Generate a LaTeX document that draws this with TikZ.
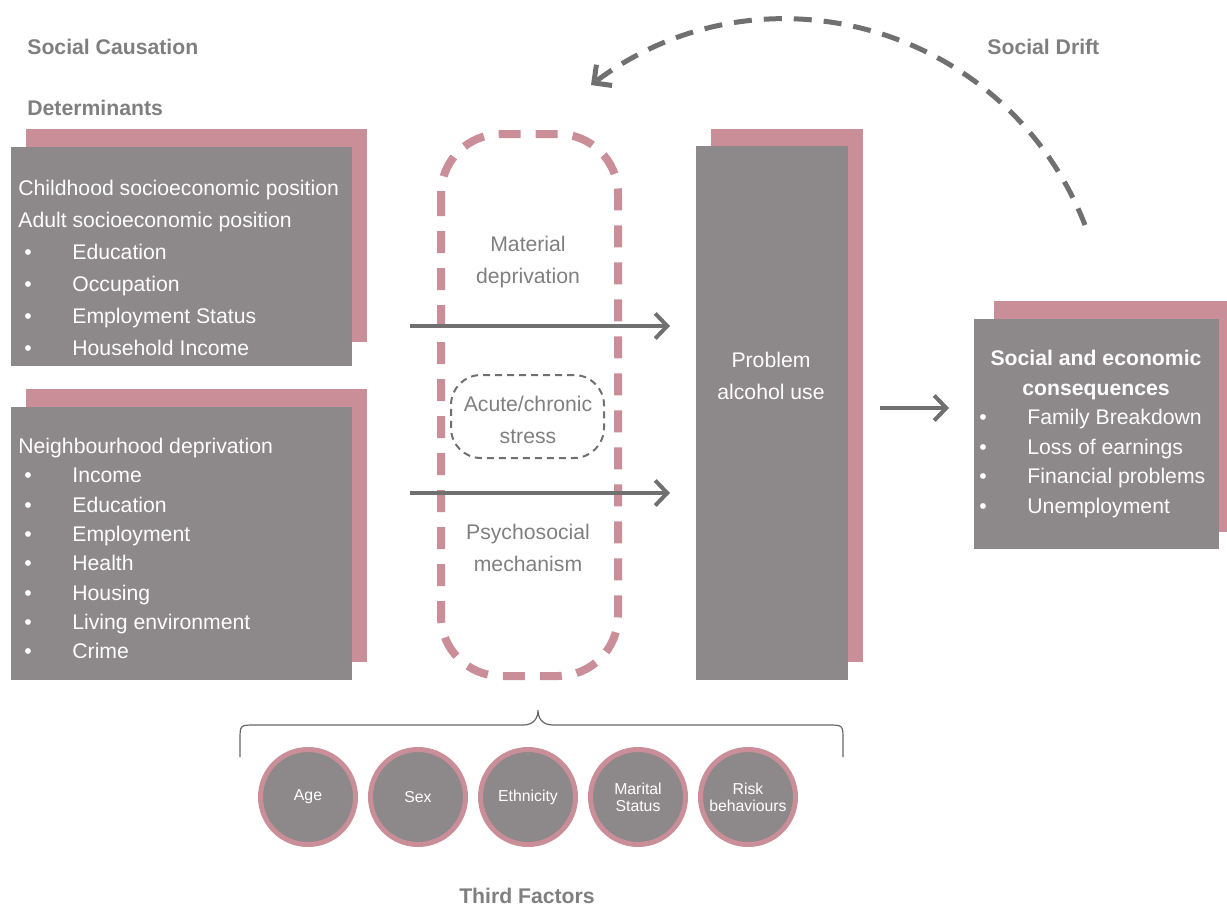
\documentclass[tikz,border=0pt]{standalone}
\usepackage{fontspec}
\setmainfont{Liberation Sans}
\usepackage{tikz}
\usetikzlibrary{arrows.meta}
\definecolor{rosepink}{HTML}{C98E98}
\definecolor{boxgrey}{HTML}{8D8889}
\definecolor{arrowgrey}{HTML}{707070}
\definecolor{labelgrey}{HTML}{7F7F7F}
\definecolor{bracegrey}{HTML}{666666}

\begin{document}
\begin{tikzpicture}[x=0.5pt, y=-0.5pt,
  txt/.style={font=\fontsize{10.6}{16}\selectfont, inner sep=0pt, anchor=base west, text=white},
  dot/.style={font=\fontsize{10.6}{16}\selectfont, inner sep=0pt, anchor=base, text=white},
  boldtxt/.style={font=\fontsize{10.6}{16}\selectfont\bfseries, inner sep=0pt, anchor=base, text=white},
  midtxt/.style={font=\fontsize{10.6}{16}\selectfont, inner sep=0pt, anchor=base},
  head/.style={font=\fontsize{10.6}{16}\selectfont\bfseries, inner sep=0pt, anchor=base west, text=labelgrey},
  frontbox/.style={rectangle, fill=boxgrey, inner sep=0pt},
  flow/.style={-{Straight Barb[length=6pt, width=12.5pt]}, line width=2pt, draw=arrowgrey},
  factor/.style={circle, fill=boxgrey, draw=rosepink, line width=2.5pt, minimum size=47.5pt, inner sep=0pt,
    text=white, align=center, font=\fontsize{7.9}{8.5}\selectfont}]
\useasboundingbox (0,0) rectangle (1227,907);
%%%%% Headings %%%%%
\node[head] (causation) at (27,54.5) {Social Causation};
\node[head] (determ) at (27,115.5) {Determinants};
\node[head] (drift) at (987,54.5) {Social Drift};
\node[head, anchor=base] (third) at (527,903.5) {Third Factors};
%%%%% Shadows %%%%%
\fill[rosepink] (26,129) rectangle (367,342);
\fill[rosepink] (26,389) rectangle (367,662);
\fill[rosepink] (711,129) rectangle (863,662);
\fill[rosepink] (994,301) rectangle (1227,532);
%%%%% Boxes %%%%%
\node[frontbox, minimum width=170.5pt, minimum height=109.5pt] (ses) at (181.5,256.5) {};
\node[frontbox, minimum width=170.5pt, minimum height=136.5pt] (nbh) at (181.5,543.5) {};
\node[frontbox, minimum width=76pt, minimum height=267pt] (alcohol) at (772,413) {};
\node[frontbox, minimum width=122.5pt, minimum height=115pt] (conseq) at (1096.5,434) {};
%%%%% Socioeconomic position %%%%%
\node[txt] (ses0) at (18,195.5) {Childhood socioeconomic position};
\node[txt] (ses1) at (18,227.5) {Adult socioeconomic position};
\foreach \t [count=\i] in {Education, Occupation, Employment Status, Household Income}{
\node[dot] (sesb\i) at (28,227.5+32*\i) {\textbullet};
\node[txt] (sesi\i) at (72,227.5+32*\i) {\t};
}
%%%%% Neighbourhood %%%%%
\node[txt] (nbh0) at (18,453.5) {Neighbourhood deprivation};
\foreach \t [count=\i] in {Income, Education, Employment, Health, Housing, Living environment, Crime}{
\node[dot] (nbhb\i) at (28,453.5+29.3*\i) {\textbullet};
\node[txt] (nbhi\i) at (72,453.5+29.3*\i) {\t};
}
%%%%% Problem alcohol use %%%%%
\node[midtxt, text=white] (alc1) at (771,367.5) {Problem};
\node[midtxt, text=white] (alc2) at (771,399.5) {alcohol use};
%%%%% Consequences %%%%%
\node[boldtxt] (cq1) at (1096,365.5) {Social and economic};
\node[boldtxt] (cq2) at (1096,395.5) {consequences};
\foreach \t [count=\i] in {Family Breakdown, Loss of earnings, Financial problems, Unemployment}{
\node[dot] (cqb\i) at (983,395+29.6*\i) {\textbullet};
\node[txt] (cqi\i) at (1027,395+29.6*\i) {\t};
}
%%%%% Mechanisms %%%%%
\draw[rosepink, line width=4pt, dash pattern=on 11pt off 7.5pt, rounded corners=30pt] (441,134) rectangle (618,676);
\node[draw=arrowgrey, line width=1pt, dash pattern=on 3.5pt off 2.5pt, rounded corners=15pt,
  minimum width=76.5pt, minimum height=41.5pt] (stress) at (527.5,416.5) {};
\node[midtxt, text=labelgrey] (mat1) at (528,251.5) {Material};
\node[midtxt, text=labelgrey] (mat2) at (528,283.5) {deprivation};
\node[midtxt, text=labelgrey] (str1) at (528,411.5) {Acute/chronic};
\node[midtxt, text=labelgrey] (str2) at (528,443.5) {stress};
\node[midtxt, text=labelgrey] (psy1) at (528,539.5) {Psychosocial};
\node[midtxt, text=labelgrey] (psy2) at (528,571.5) {mechanism};
%%%%% Arrows %%%%%
\coordinate (matA) at (410,326);
\coordinate (matB) at (670,326);
\coordinate (psyA) at (410,493);
\coordinate (psyB) at (670,493);
\coordinate (cqA) at (880,408);
\coordinate (cqB) at (949,408);
\draw[flow] (matA) -- (matB);
\draw[flow] (psyA) -- (psyB);
\draw[flow] (cqA) -- (cqB);
\coordinate (driftA) at (1085,225);
\coordinate (driftB) at (591,85);
\draw[arrowgrey, line width=2.5pt, dash pattern=on 9pt off 6pt, -{Straight Barb[length=6.5pt, width=13pt]}]
  (driftA) .. controls (1007,26) and (763,-44) .. (driftB);
%%%%% Third factors %%%%%
\draw[bracegrey, line width=0.6pt] (240,757) -- (240,740) .. controls (240,725) .. (255,725) -- (523,725)
  .. controls (534,725) and (538,718) .. (538,710) .. controls (538,718) and (542,725) .. (553,725)
  -- (828,725) .. controls (843,725) .. (843,740) -- (843,757);
\foreach \f [count=\i] in {Age, Sex, Ethnicity, Marital\\Status, Risk\\behaviours}{
\node[factor] (tf\i) at (198+110*\i,797) {\f};
}
\end{tikzpicture}
\end{document}
